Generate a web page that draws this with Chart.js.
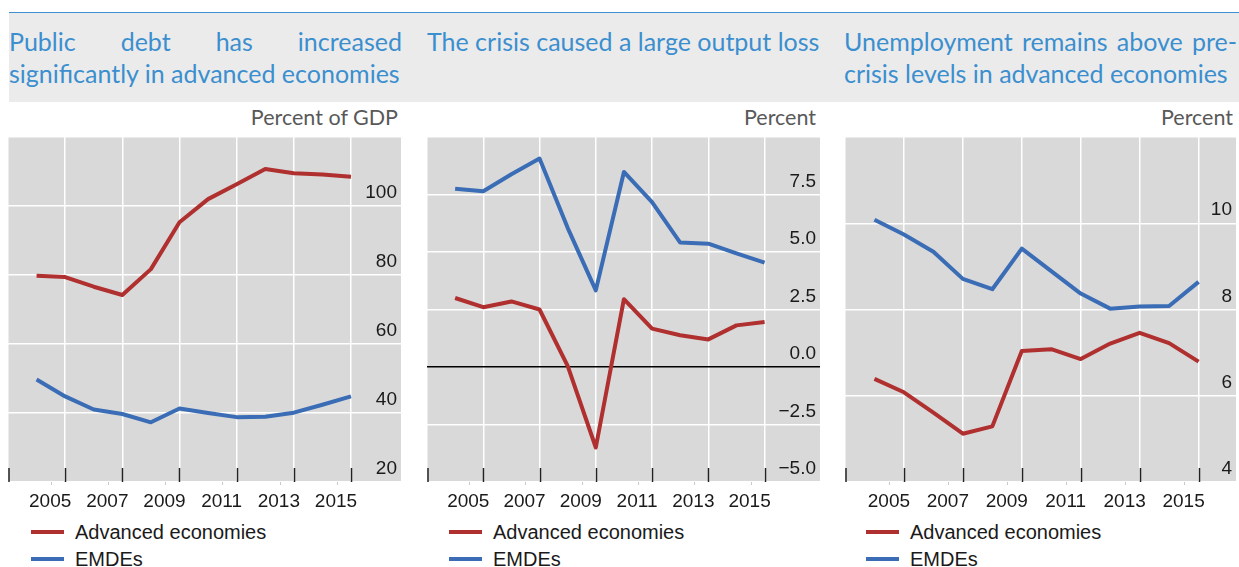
<!DOCTYPE html>
<html>
<head>
<meta charset="utf-8">
<script src="https://cdn.jsdelivr.net/npm/chart.js@4"></script>
<style>
  html, body { margin: 0; padding: 0; background: #fff; }
  body { width: 1239px; height: 567px; position: relative; overflow: hidden; font-family: "Liberation Sans", Arial, sans-serif; }
  .band { position: absolute; left: 9px; top: 13px; width: 1230px; height: 89px; background: #ebebeb; }
  .bline { position: absolute; left: 9px; top: 12px; width: 1230px; height: 1px; background: #3d8fd1; }
  .title { position: absolute; top: 25px; color: #3b8fcf; font-family: Lato, "Open Sans", sans-serif; font-size: 25px; line-height: 32px; text-align: justify; }
  .sub { position: absolute; top: 104px; color: #595959; font-family: Lato, "Open Sans", sans-serif; font-size: 21.5px; line-height: 26px; text-align: right; }
  canvas { position: absolute; top: 137px; }
  .leg { position: absolute; font-size: 20px; line-height: 22px; color: #1a1a1a; white-space: nowrap; }
  .sw { position: absolute; width: 33px; height: 4px; }
</style>
</head>
<body>
<div class="band"></div>
<div class="bline"></div>

<div class="title" style="left:9px;width:393px;">Public debt has increased significantly in advanced economies</div>
<div class="title" style="left:427px;width:400px;text-align:left;">The crisis caused a large output loss</div>
<div class="title" style="left:844px;width:393px;">Unemployment remains above pre-crisis levels in advanced economies</div>

<div class="sub" style="left:200px;width:198px;">Percent of GDP</div>
<div class="sub" style="left:620px;width:196px;">Percent</div>
<div class="sub" style="left:1035px;width:198px;">Percent</div>

<canvas id="c1" width="393" height="378" style="left:8px;"></canvas>
<canvas id="c2" width="393" height="378" style="left:427px;"></canvas>
<canvas id="c3" width="391" height="378" style="left:845px;"></canvas>

<div id="legends"></div>

<script>
// ---------------- DATA ----------------
const years = [2004, 2005, 2006, 2007, 2008, 2009, 2010, 2011, 2012, 2013, 2014, 2015];
const xTickYears = [2003, 2005, 2007, 2009, 2011, 2013, 2015];
const seriesNames = ['Advanced economies', 'EMDEs'];

// Panel 1: public debt, percent of GDP
const debtAdvanced = [79.8, 79.4, 76.6, 74.2, 81.7, 95.3, 102.0, 106.3, 110.7, 109.5, 109.1, 108.5];
const debtEMDE     = [49.7, 44.8, 41.0, 39.7, 37.3, 41.3, 40.0, 38.8, 38.9, 40.1, 42.4, 44.8];
const debtTicks      = [20, 40, 60, 80, 100, 120];
const debtTickLabels = ['20', '40', '60', '80', '100', ''];

// Panel 2: output growth, percent
const growthAdvanced = [3.0, 2.6, 2.85, 2.5, 0.05, -3.5, 2.95, 1.67, 1.38, 1.2, 1.81, 1.96];
const growthEMDE     = [7.75, 7.64, 8.38, 9.06, 6.05, 3.33, 8.48, 7.17, 5.41, 5.36, 4.94, 4.54];
const growthTicks      = [-5, -2.5, 0, 2.5, 5, 7.5, 10];
const growthTickLabels = ['\u22125.0', '\u22122.5', '0.0', '2.5', '5.0', '7.5', ''];

// Panel 3: unemployment, percent
const unempAdvanced = [6.39, 6.08, 5.61, 5.12, 5.29, 7.04, 7.08, 6.85, 7.21, 7.46, 7.22, 6.79];
const unempEMDE     = [10.08, 9.74, 9.34, 8.71, 8.47, 9.41, 8.89, 8.37, 8.02, 8.07, 8.08, 8.64];
const unempTicks      = [4, 6, 8, 10, 12];
const unempTickLabels = ['4', '6', '8', '10', ''];

// ---------------- STYLE ----------------
const RED = '#b02f2f';
const BLUE = '#3a6db5';
const PLOT_BG = '#d9d9d9';
const FONT = { family: '"Liberation Sans", Arial, sans-serif', size: 19 };

function zeroPad(s) { s.paddingTop = 0; s.paddingBottom = 0; s.paddingLeft = 0; s.paddingRight = 0; }

const bgPlugin = {
  id: 'bg',
  beforeDraw(chart) {
    const { ctx, chartArea: a } = chart;
    ctx.save();
    ctx.fillStyle = PLOT_BG;
    ctx.fillRect(a.left, a.top, a.right - a.left, a.bottom - a.top);
    ctx.restore();
  },
  afterDraw(chart) {
    const { ctx, chartArea: a } = chart;
    const xs = chart.scales.x;
    ctx.save();
    ctx.strokeStyle = '#222';
    ctx.lineWidth = 1.5;
    xs.ticks.forEach(t => {
      const px = Math.max(a.left + 1, Math.round(xs.getPixelForValue(t.value)) + 0.5);
      ctx.beginPath();
      ctx.moveTo(px, a.bottom - 14);
      ctx.lineTo(px, a.bottom);
      ctx.stroke();
    });
    ctx.strokeStyle = '#c8c8c8';
    ctx.lineWidth = 1;
    xs.ticks.forEach(t => {
      if (t.value === xTickYears[0]) return;
      const px = Math.round(xs.getPixelForValue(t.value - 0.5)) + 0.5;
      ctx.beginPath();
      ctx.moveTo(px, a.bottom);
      ctx.lineTo(px, a.bottom + 3);
      ctx.stroke();
    });
    ctx.restore();
  }
};

function makeChart(id, adv, emde, yTicks, yLabels, xMax) {
  const toPts = arr => years.map((y, i) => ({ x: y, y: arr[i] }));
  return new Chart(document.getElementById(id), {
    type: 'line',
    data: {
      datasets: [
        { label: seriesNames[0], data: toPts(adv), borderColor: RED, borderWidth: 4, pointRadius: 0, tension: 0, borderJoinStyle: 'round' },
        { label: seriesNames[1], data: toPts(emde), borderColor: BLUE, borderWidth: 4, pointRadius: 0, tension: 0, borderJoinStyle: 'round' }
      ]
    },
    options: {
      responsive: false,
      animation: false,
      devicePixelRatio: 1,
      layout: { padding: 0 },
      plugins: { legend: { display: false }, tooltip: { enabled: false } },
      scales: {
        x: {
          type: 'linear',
          min: xTickYears[0],
          max: xMax,
          afterBuildTicks: s => { s.ticks = xTickYears.map(v => ({ value: v })); },
          afterFit: s => { s.height = 33; zeroPad(s); },
          border: { display: false },
          grid: { color: '#ffffff', lineWidth: 1.5, drawTicks: false },
          ticks: {
            font: FONT, color: '#1a1a1a', padding: 8, labelOffset: -15, maxRotation: 0, autoSkip: false,
            callback: v => (v === xTickYears[0] ? '' : String(v))
          }
        },
        y: {
          position: 'right',
          min: yTicks[0],
          max: yTicks[yTicks.length - 1],
          afterBuildTicks: s => { s.ticks = yTicks.map(v => ({ value: v })); },
          afterFit: s => { s.width = 0; zeroPad(s); },
          border: { display: false },
          grid: {
            color: c => (c.tick && c.tick.value === 0 && yTicks[0] < 0 ? '#000000' : '#ffffff'),
            lineWidth: 1.5, drawTicks: false
          },
          ticks: {
            mirror: true, padding: -4, labelOffset: -13, font: FONT, color: '#1a1a1a', autoSkip: false,
            callback: v => yLabels[yTicks.indexOf(v)]
          }
        }
      }
    },
    plugins: [bgPlugin]
  });
}

makeChart('c1', debtAdvanced, debtEMDE, debtTicks, debtTickLabels, 2016.75);
makeChart('c2', growthAdvanced, growthEMDE, growthTicks, growthTickLabels, 2016.97);
makeChart('c3', unempAdvanced, unempEMDE, unempTicks, unempTickLabels, 2016.27);

// Legends (HTML)
const legendLefts = [31, 449, 866];
const legendColors = [RED, BLUE];
const legendRows = [532, 559];
const legHost = document.getElementById('legends');
legendLefts.forEach(lx => {
  seriesNames.forEach((name, i) => {
    const sw = document.createElement('div');
    sw.className = 'sw';
    sw.style.left = lx + 'px';
    sw.style.top = (legendRows[i] - 2) + 'px';
    sw.style.background = legendColors[i];
    legHost.appendChild(sw);
    const tx = document.createElement('div');
    tx.className = 'leg';
    tx.style.left = (lx + 44) + 'px';
    tx.style.top = (legendRows[i] - 11) + 'px';
    tx.textContent = name;
    legHost.appendChild(tx);
  });
});
</script>
</body>
</html>
